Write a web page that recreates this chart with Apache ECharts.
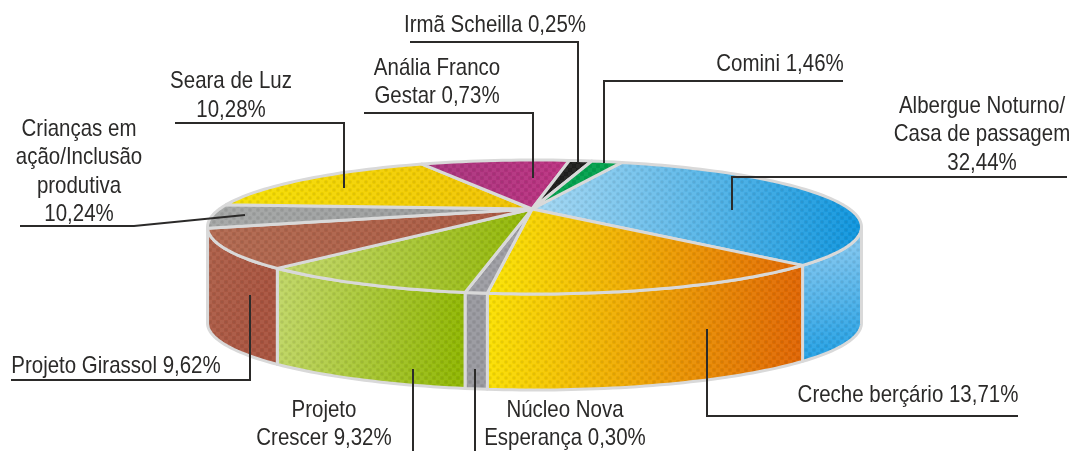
<!DOCTYPE html>
<html>
<head>
<meta charset="utf-8">
<title>Pie</title>
<script src="https://cdn.jsdelivr.net/npm/echarts@6/dist/echarts.min.js"></script>
<style>
  html, body { margin: 0; padding: 0; background: #fff; }
  #main { width: 1071px; height: 451px; }
</style>
</head>
<body>
<div id="main"></div>
<script>
// clockwise from the Comini / Albergue edge
const names = ['Albergue Noturno/Casa de passagem', 'Creche berçário', 'Núcleo Nova Esperança', 'Projeto Crescer',
  'Projeto Girassol', 'Crianças em ação/Inclusão produtiva', 'Seara de Luz', 'Anália Franco Gestar', 'Irmã Scheilla', 'Comini'];
// values as printed on the labels
const printed = ['32,44%', '13,71%', '0,30%', '9,32%', '9,62%', '10,24%', '10,28%', '0,73%', '0,25%', '1,46%'];
// the slices as they are actually drawn in the picture (share of the rim, %), they don't follow the printed numbers
const drawnShare = [30.4, 17.6, 1.1, 11, 10.3, 5.7, 14, 7.3, 1.1, 1.5];

const topColors = [
  ['#a6d8f2', '#0c94dd'], ['#fbe600', '#e26600'], ['#9c9ca2', '#9c9ca2'], ['#c3d86c', '#8fb500'],
  ['#b0674e', '#a9573f'], ['#a3a5a4', '#97999a'], ['#f5e000', '#f0c000'], ['#a6337c', '#bb2f7f'],
  ['#1d1d1b', '#1d1d1b'], ['#00a04b', '#00a04b']
];
const wallColors = [
  ['#93cdf0', '#1c9de3'], ['#fbe200', '#e06400'], ['#98989e', '#98989e'], ['#c0d666', '#8fb600'],
  ['#ad5f48', '#a8523d'], null, null, null, null, null
];
const wallVertical = [true, false, false, false, false];

const START = 74.5;
const cx = 534.5, cy = 227, rx = 327, ry = 67, depth = 96;
const apex = [532, 209];
const edge = '#d9d9d9';

const rim = (deg, dy) => {
  const t = deg * Math.PI / 180;
  return [cx + rx * Math.cos(t), cy - ry * Math.sin(t) + (dy || 0)];
};
const total = drawnShare.reduce((a, b) => a + b, 0);
const angles = [];
let acc = START;
drawnShare.forEach(v => {
  const next = acc - v / total * 360;
  angles.push([acc, next]);
  acc = next;
});
const arc = (a, b, dy) => {
  const pts = [];
  const n = Math.max(2, Math.ceil(Math.abs(a - b) / 1.5));
  for (let i = 0; i <= n; i++) pts.push(rim(a + (b - a) * i / n, dy));
  return pts;
};

// halftone overlay
const tile = document.createElement('canvas');
tile.width = 8; tile.height = 8;
const c = tile.getContext('2d');
c.fillStyle = 'rgba(60,60,60,0.1)';
[[0, 0], [4, 4]].forEach(p => {
  c.beginPath();
  c.moveTo(p[0] + 2, p[1]); c.lineTo(p[0] + 4, p[1] + 2); c.lineTo(p[0] + 2, p[1] + 4); c.lineTo(p[0], p[1] + 2);
  c.closePath(); c.fill();
});
c.fillStyle = 'rgba(255,255,255,0.05)';
[[4, 0], [0, 4]].forEach(p => c.fillRect(p[0], p[1], 4, 4));

const grad = (pair, vertical) => ({
  type: 'linear', x: 0, y: 0, x2: vertical ? 0.4 : 1, y2: vertical ? 1 : 0.15,
  colorStops: [{offset: 0, color: pair[0]}, {offset: 1, color: pair[1]}]
});
const layers = (pts, fill) => [
  {type: 'polygon', shape: {points: pts}, style: {fill: fill}, silent: true},
  {type: 'polygon', shape: {points: pts}, style: {fill: {image: tile, repeat: 'repeat'}}, silent: true},
  {type: 'polygon', shape: {points: pts}, style: {fill: 'none', stroke: edge, lineWidth: 3, lineJoin: 'round'}, silent: true}
];

function renderWall(params) {
  const i = params.dataIndex;
  const a = Math.min(angles[i][0], 0), b = Math.max(angles[i][1], -180);
  if (!wallColors[i] || a <= b) return {type: 'group', children: []};
  const pts = arc(a, b, 0).concat(arc(b, a, depth));
  return {type: 'group', children: layers(pts, grad(wallColors[i], wallVertical[i]))};
}
function renderTop(params) {
  const i = params.dataIndex;
  const pts = [apex].concat(arc(angles[i][0], angles[i][1], 0));
  return {type: 'group', children: layers(pts, grad(topColors[i], false))};
}

// text blocks, same order as names
const labelText = [
  'Albergue Noturno/\nCasa de passagem\n' + printed[0],
  'Creche berçário ' + printed[1],
  'Núcleo Nova\nEsperança ' + printed[2],
  'Projeto\nCrescer ' + printed[3],
  'Projeto Girassol ' + printed[4],
  'Crianças em\nação/Inclusão\nprodutiva\n' + printed[5],
  'Seara de Luz\n' + printed[6],
  'Anália Franco\nGestar ' + printed[7],
  'Irmã Scheilla ' + printed[8],
  'Comini ' + printed[9]
];
const labelPos = [[982, 92], [908, 381], [565, 396], [324, 396], [116, 352], [79, 115], [231, 67], [437, 55], [495, 11], [780, 50]];
const labelGap = [28.5, 28, 28, 28, 28, 28.4, 29, 27.5, 28, 28];
const leaders = [
  [[1067, 177], [732, 177], [732, 210]],
  [[1018, 416], [707, 416], [707, 329]],
  [[475, 451], [475, 369]],
  [[413, 451], [413, 369]],
  [[11, 380], [250, 380], [250, 295]],
  [[20, 226], [134, 226], [245, 215]],
  [[175, 123], [344, 123], [344, 188]],
  [[364, 113], [533, 113], [533, 178]],
  [[410, 42], [578, 42], [578, 163]],
  [[843, 81], [604, 81], [604, 163]]
];

const graphics = [];
leaders.forEach(pts => graphics.push({
  type: 'polyline', z: 20, silent: true, shape: {points: pts},
  style: {fill: 'none', stroke: '#2b2a29', lineWidth: 2}
}));
labelText.forEach((t, i) => graphics.push({
  type: 'text', z: 21, silent: true, x: labelPos[i][0], y: labelPos[i][1], scaleX: 0.853,
  style: {
    text: t, fill: '#2b2a29', align: 'center', verticalAlign: 'top',
    font: '24px "Liberation Sans", sans-serif', lineHeight: labelGap[i]
  }
}));

const data = names.map((n, i) => ({name: n, value: drawnShare[i]}));
const chart = echarts.init(document.getElementById('main'));
chart.setOption({
  animation: false,
  backgroundColor: '#fff',
  series: [
    {type: 'custom', coordinateSystem: 'none', renderItem: renderWall, data: data, z: 2, silent: true},
    {type: 'custom', coordinateSystem: 'none', renderItem: renderTop, data: data, z: 3, silent: true}
  ],
  graphic: graphics
});
</script>
</body>
</html>
